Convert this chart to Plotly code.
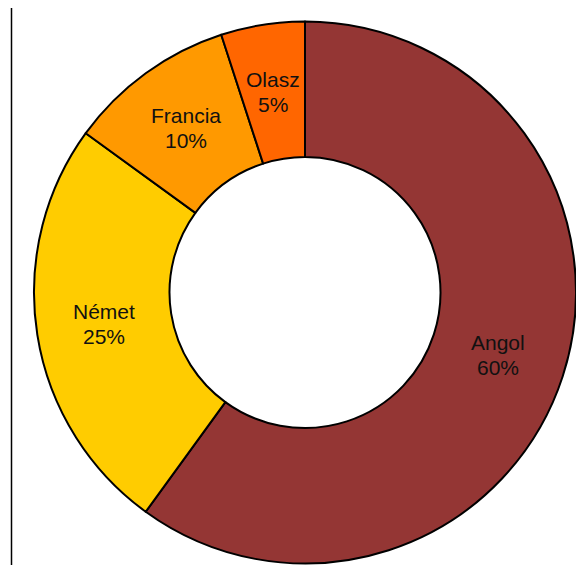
import math
import plotly.graph_objects as go

# Language share data
languages = ["Angol", "Német", "Francia", "Olasz"]
shares = [60, 25, 10, 5]
colors = ["#943634", "#FFCC00", "#FF9900", "#FF6600"]

# figure sits inside the page body (8px default margin)
W, H = 576, 557
cx, cy, r = 297, 284.5, 271
hole = 0.5

fig = go.Figure(go.Pie(
    labels=languages,
    values=shares,
    hole=hole,
    sort=False,
    direction="clockwise",
    rotation=0,
    marker=dict(colors=colors, line=dict(color="black", width=2)),
    textinfo="none",
    domain=dict(x=[(cx - r) / W, (cx + r) / W],
                y=[(H - cy - r) / H, (H - cy + r) / H]),
    showlegend=False,
    hoverinfo="label+percent",
))

# slice labels at the middle of the ring
total = sum(shares)
rm = r * (1 + hole) / 2
start = 0
for name, val in zip(languages, shares):
    mid = (start + val / 2) / total * 2 * math.pi
    start += val
    px_x = cx + rm * math.sin(mid)
    px_y = cy - rm * math.cos(mid)
    pct = f"{round(val / total * 100)}%"
    for txt, shift in [(name, 12.5), (pct, -12.5)]:
        fig.add_annotation(
            x=px_x / W, y=1 - px_y / H, xref="paper", yref="paper",
            text=txt, showarrow=False, xanchor="center", yanchor="middle",
            yshift=shift,
            font=dict(family="Liberation Sans, Arial", size=21, color="#111111"),
        )

# thin vertical rule on the left edge
fig.add_shape(type="line", xref="paper", yref="paper",
              x0=3.5 / W, x1=3.5 / W, y0=0, y1=1,
              line=dict(color="black", width=1.5))

fig.update_layout(
    width=W, height=H,
    margin=dict(l=0, r=0, t=0, b=0),
    paper_bgcolor="white",
    plot_bgcolor="white",
)

fig.write_html("out.html")
